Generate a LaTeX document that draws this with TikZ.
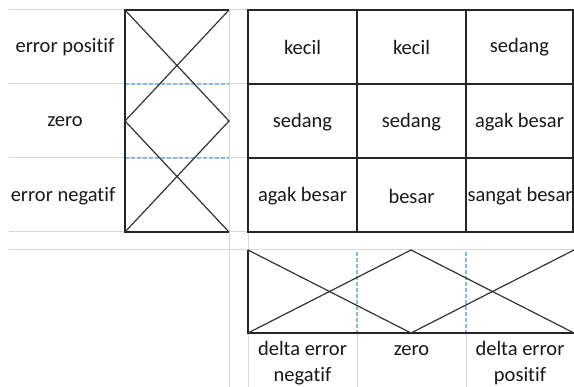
\documentclass[tikz,border=0pt]{standalone}
\usepackage{fontspec}
\setmainfont[Ligatures=NoCommon]{Carlito}
\definecolor{sepblue}{RGB}{140,185,228}
\definecolor{gridgray}{RGB}{215,215,215}
\begin{document}
\begin{tikzpicture}[x=1pt,y=-1pt,
  grid/.style={draw=gridgray,line width=1pt},
  border/.style={draw=black!85,line width=1.5pt},
  mf/.style={draw=black!80,line width=1.2pt},
  sep/.style={draw=sepblue,line width=1.1pt,dash pattern=on 4pt off 2pt},
  lbl/.style={font=\fontsize{20.5}{26}\selectfont,text=black!90,inner sep=0pt,align=center}]
\useasboundingbox (0,0) rectangle (574,387);
\fill[white] (0,0) rectangle (574,387);
% corner coordinates
\coordinate (LT) at (125,10); \coordinate (RT) at (229,10);
\coordinate (LM) at (125,121); \coordinate (RM) at (229,121);
\coordinate (LB) at (125,232); \coordinate (RB) at (229,232);
\coordinate (BTL) at (248,250); \coordinate (BBL) at (248,333);
\coordinate (BTM) at (411,250); \coordinate (BBM) at (411,333);
\coordinate (BTR) at (574,250); \coordinate (BBR) at (574,333);
% spreadsheet gridlines
\foreach \y in {10,84,158,232,250} \draw[grid] (9,\y) -- (574,\y);
\draw[grid] (229,10) -- (229,387);
\draw[grid] (248,232) -- (248,387);
\draw[grid] (357,333) -- (357,387);
\draw[grid] (466,333) -- (466,387);
% left membership box
\draw[sep] (125,84) -- (229,84);
\draw[sep] (125,158) -- (229,158);
\draw[border] (RT) -- (LT) -- (LB) -- (RB);
\draw[mf] (LT) -- (RM) -- (LB);
\draw[mf] (RT) -- (LM) -- (RB);
% rule table
\draw[border] (248,10) rectangle (573,232);
\foreach \x in {357,466} \draw[border] (\x,10) -- (\x,232);
\foreach \y in {84,158} \draw[border] (248,\y) -- (573,\y);
% bottom membership box
\draw[sep] (357,252) -- (357,333);
\draw[sep] (466,252) -- (466,333);
\draw[border] (BTL) -- (BBL) -- (BBR);
\draw[mf] (BTL) -- (BBM) -- (BTR);
\draw[mf] (BBL) -- (BTM) -- (BBR);
% left labels
\node[lbl] (ep) at (65,47) {error positif};
\node[lbl] (ez) at (65,122) {zero};
\node[lbl] (en) at (63,196) {error negatif};
% table cells
\node[lbl] (c11) at (302.5,47) {kecil};
\node[lbl] (c12) at (411.5,47) {kecil};
\node[lbl] (c13) at (519.5,47) {sedang};
\node[lbl] (c21) at (302.5,122) {sedang};
\node[lbl] (c22) at (411.5,122) {sedang};
\node[lbl] (c23) at (519.5,122) {agak besar};
\node[lbl] (c31) at (302.5,196) {agak besar};
\node[lbl] (c32) at (411.5,196) {besar};
\node[lbl] (c33) at (520,196) {sangat besar};
% bottom labels
\node[lbl] (dn) at (302.5,363) {delta error\\negatif};
\node[lbl,anchor=base] (dz) at (411.5,356) {zero};
\node[lbl] (dp) at (520,363) {delta error\\positif};
\end{tikzpicture}
\end{document}
